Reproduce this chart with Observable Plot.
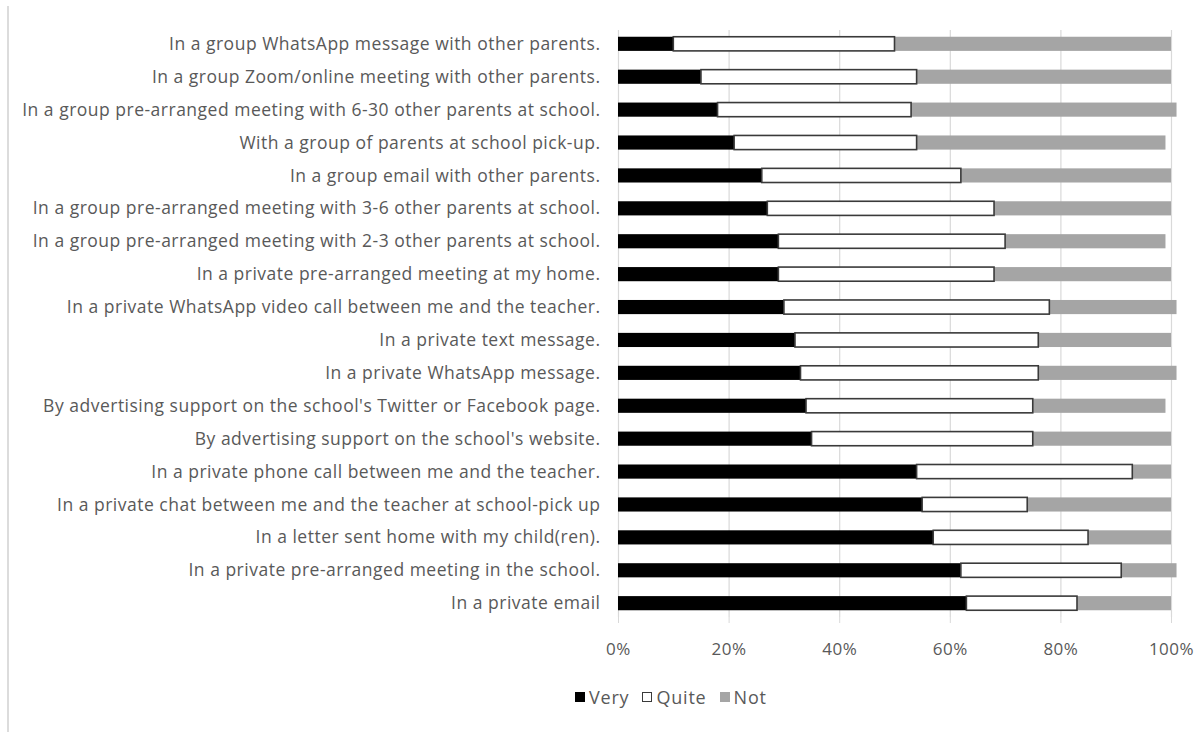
<!DOCTYPE html>
<html>
<head>
<meta charset="utf-8">
<script src="https://cdn.jsdelivr.net/npm/d3@7"></script>
<script src="https://cdn.jsdelivr.net/npm/@observablehq/plot@0.6"></script>
<style>
  html, body { margin: 0; padding: 0; background: #fff; }
  #page { position: relative; width: 1194px; height: 732px; overflow: hidden; font-family: "Open Sans", sans-serif; }
  #edge { position: absolute; left: 7px; top: 6px; bottom: 0; width: 2px; background: #dcdcdc; }
  #chart { position: absolute; left: 0; top: 0; }
  #chart svg text { letter-spacing: 0.5px; }
  #legend { position: absolute; left: 575px; top: 684px; height: 26px; display: flex; align-items: center; gap: 13px; color: #595959; font-size: 18px; letter-spacing: 0.8px; }
  #legend .item { display: flex; align-items: center; gap: 4px; }
  #legend .sw { width: 10px; height: 10px; box-sizing: border-box; display: inline-block; }
</style>
</head>
<body>
<div id="page">
  <div id="edge"></div>
  <div id="chart"></div>
  <div id="legend"></div>
</div>
<script>
// Survey responses, listed top to bottom
const categories = [
  "In a group WhatsApp message with other parents.",
  "In a group Zoom/online meeting with other parents.",
  "In a group pre-arranged meeting with 6-30 other parents at school.",
  "With a group of parents at school pick-up.",
  "In a group email with other parents.",
  "In a group pre-arranged meeting with 3-6 other parents at school.",
  "In a group pre-arranged meeting with 2-3 other parents at school.",
  "In a private pre-arranged meeting at my home.",
  "In a private WhatsApp video call between me and the teacher.",
  "In a private text message.",
  "In a private WhatsApp message.",
  "By advertising support on the school's Twitter or Facebook page.",
  "By advertising support on the school's website.",
  "In a private phone call between me and the teacher.",
  "In a private chat between me and the teacher at school-pick up",
  "In a letter sent home with my child(ren).",
  "In a private pre-arranged meeting in the school.",
  "In a private email"
];

// Percent of respondents per answer
const very  = [10, 15, 18, 21, 26, 27, 29, 29, 30, 32, 33, 34, 35, 54, 55, 57, 62, 63];
const quite = [40, 39, 35, 33, 36, 41, 41, 39, 48, 44, 43, 41, 40, 39, 19, 28, 29, 20];
const not   = [50, 46, 48, 45, 38, 32, 29, 32, 23, 24, 25, 24, 25,  7, 26, 15, 10, 17];

const seriesNames = ["Very", "Quite", "Not"];
const seriesColors = ["#000000", "#ffffff", "#a5a5a5"];
const xTicks = [0, 20, 40, 60, 80, 100];

// Long-format table for stacking
const rows = [];
categories.forEach((c, i) => {
  rows.push({label: c, series: "Very", value: very[i]});
  rows.push({label: c, series: "Quite", value: quite[i]});
  rows.push({label: c, series: "Not", value: not[i]});
});

const stackOpts = {
  x: "value",
  y: "label",
  fill: "series",
  order: seriesNames
};

const chart = Plot.plot({
  width: 1194,
  height: 672,
  marginLeft: 618,
  marginRight: 23,
  marginTop: 30,
  marginBottom: 55,
  style: {fontFamily: "'Open Sans', sans-serif", fontSize: "17.5px", color: "#595959", background: "transparent"},
  x: {domain: [0, 100], ticks: xTicks, tickFormat: d => d + "%", label: null},
  y: {domain: categories, paddingInner: 0.57, paddingOuter: 0.205, round: false, label: null},
  color: {domain: seriesNames, range: seriesColors},
  marks: [
    Plot.ruleX(xTicks, {stroke: "#d9d9d9", strokeWidth: 1.2}),
    Plot.axisX({ticks: xTicks, tickFormat: d => d + "%", tickSize: 6, tickPadding: 19, stroke: "#d9d9d9", fill: "#595959", fontSize: 17, label: null}),
    Plot.axisY({tickSize: 0, tickPadding: 18, fill: "#595959", fontSize: 17.5, label: null}),
    Plot.barX(rows, Plot.stackX(stackOpts)),
    Plot.barX(rows, Plot.filter(d => d.series === "Quite", Plot.stackX({...stackOpts, stroke: "#3a3a3a", strokeWidth: 1.6})))
  ]
});
document.getElementById("chart").append(chart);

// Legend under the chart
const legend = document.getElementById("legend");
seriesNames.forEach((name, i) => {
  const item = document.createElement("span");
  item.className = "item";
  const sw = document.createElement("span");
  sw.className = "sw";
  sw.style.background = seriesColors[i];
  if (name === "Quite") sw.style.border = "1.6px solid #3a3a3a";
  const t = document.createElement("span");
  t.textContent = name;
  item.append(sw, t);
  legend.append(item);
});
</script>
</body>
</html>
